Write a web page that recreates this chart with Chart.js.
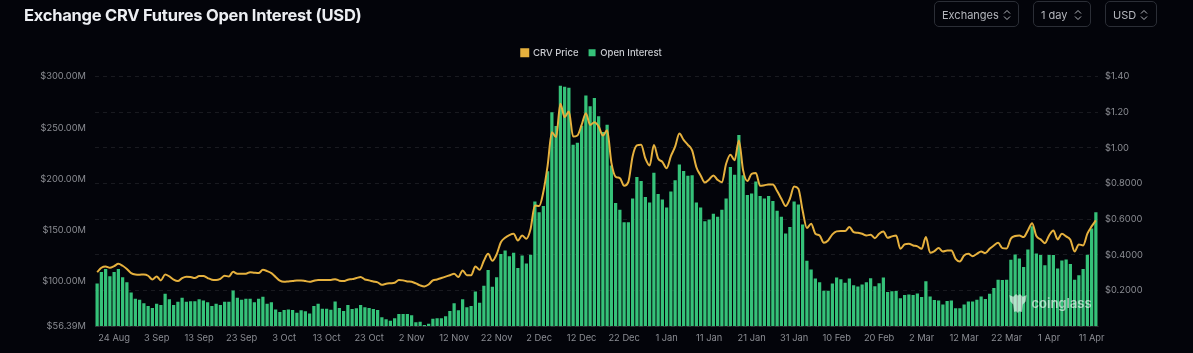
<!DOCTYPE html>
<html>
<head>
<meta charset="utf-8">
<script src="https://cdn.jsdelivr.net/npm/chart.js@4"></script>
<style>
html,body{margin:0;padding:0;background:#03040a;width:1193px;height:353px;overflow:hidden;font-family:Inter,sans-serif}
#wrap{position:relative;width:1193px;height:353px}
canvas{position:absolute;left:0;top:0}
#title{position:absolute;left:24px;top:3px;font-size:16.5px;font-weight:700;line-height:24px;color:#eceef2;letter-spacing:-0.25px;white-space:nowrap}
.sel{position:absolute;top:1px;height:24px;border:1px solid #2b2e36;border-radius:5px;color:#b4b6bc;font-size:11px;line-height:26px;padding-left:7px;white-space:nowrap}
.sel svg{position:absolute;top:7px;width:8px;height:12px}
#mark{position:absolute;left:1031.5px;top:294px;font-size:13px;font-weight:600;line-height:18px;color:rgba(255,255,255,.6)}
#logo{position:absolute;left:1008px;top:293px;width:20px;height:21px}
</style>
</head>
<body>
<div id="wrap">
<canvas id="c" width="1193" height="353"></canvas>
<div id="title">Exchange CRV Futures Open Interest (USD)</div>
<div class="sel" style="left:934px;width:76px">Exchanges<svg style="left:68px" viewBox="0 0 8 12"><path d="M1 4.5 4 1.5 7 4.5M1 7.5 4 10.5 7 7.5" fill="none" stroke="#b4b6bc" stroke-width="1"/></svg></div>
<div class="sel" style="left:1033px;width:49px">1 day<svg style="left:40px" viewBox="0 0 8 12"><path d="M1 4.5 4 1.5 7 4.5M1 7.5 4 10.5 7 7.5" fill="none" stroke="#b4b6bc" stroke-width="1"/></svg></div>
<div class="sel" style="left:1105px;width:43px">USD<svg style="left:34px" viewBox="0 0 8 12"><path d="M1 4.5 4 1.5 7 4.5M1 7.5 4 10.5 7 7.5" fill="none" stroke="#b4b6bc" stroke-width="1"/></svg></div>
<svg id="logo" viewBox="0 0 20 22"><path d="M1 2 5 4 8 1 10 3 12 1 15 4 19 2 18 9 15 12 14 20 11 19 10 21 8 19 6 20 5 12 2 9Z" fill="rgba(255,255,255,.6)"/></svg>
<div id="mark">coinglass</div>
</div>
<script>
const startDate = [2022, 7, 20];
const dayCount = 236;
const tickLabels = ["24 Aug","3 Sep","13 Sep","23 Sep","3 Oct","13 Oct","23 Oct","2 Nov","12 Nov","22 Nov","2 Dec","12 Dec","22 Dec","1 Jan","11 Jan","21 Jan","31 Jan","10 Feb","20 Feb","2 Mar","12 Mar","22 Mar","1 Apr","11 Apr"];
const leftTicks = [56.39,100,150,200,250,300];
const leftTickLabels = ["$56.39M","$100.00M","$150.00M","$200.00M","$250.00M","$300.00M"];
const rightTickLabels = {"1.4":"$1.40","1.2":"$1.20","1":"$1.00","0.8":"$0.8000","0.6":"$0.6000","0.4":"$0.4000","0.2":"$0.2000"};
const openInterest = [98,109,112,105,109,112,104,99,89,83,82,78.5,76,74,78,77,88,82.4,77,80,84,80,80.5,80.5,82.4,81.4,79.5,76,78,77,80,80,91,84,82,83,83,79.5,83,85,78,79.5,
72.6,70,72,72.6,72,69.4,71.7,70.7,68.7,76,78,73.3,73.3,72.3,80.4,74,71,77,73,73.6,77,74.6,74,73,72,65,63,61.6,64,68,68,68,67,60,60.6,57.4,58.6,63.5,63.9,64,66,71,78.5,71.7,82.4,74.6,76,90,79,95.7,111,94.7,104,126.6,130,124.6,128,113,125.3,117.5,125.9,
178,167.5,173.6,207.4,265,251.6,291,290,289,233.4,235.4,252,281.5,271,278.9,261.3,245.7,253,213,176.5,170,157.7,157.7,180.8,201.9,198,182.4,177,206,185.3,179.8,172,187.6,198.7,214,207.7,203,203.5,177,172,158.7,160.4,166,163,170,181,211.6,204,242.8,203.5,184.4,185.7,197.4,183.4,181,183.4,178.5,169,163,146.7,153,177.9,175,155.5,
120,111.6,102.8,99,90.8,90.8,98,103.8,102,98.6,102.8,96.3,95,97,99.2,103,95.3,98.2,103.8,89.5,90.2,90.5,83.4,86.6,87.2,86.6,88.2,84.6,100,85.3,81.7,81.4,77.5,80.7,81.4,73.6,73.6,77.5,80.4,80.4,82,85.3,82.7,87.8,93.4,101.5,101.2,101.5,121,126.2,122.3,114,131,153.8,127.2,125.6,115.8,125.6,125.6,112.6,120.4,121.4,117,101.5,106,112,125.9,151.6,167.5];
const crvPrice = [.302,.327,.334,.327,.336,.349,.338,.32,.297,.289,.288,.289,.282,.261,.278,.256,.289,.278,.26,.252,.269,.277,.275,.269,.28,.28,.269,.26,.258,.265,.282,.278,.304,.293,.293,.293,.302,.299,.297,.315,.308,.297,.275,.254,.248,.25,.252,.256,
.256,.252,.248,.254,.258,.258,.258,.258,.263,.254,.252,.26,.263,.269,.275,.261,.256,.25,.245,.231,.237,.24,.243,.258,.256,.25,.248,.239,.228,.222,.233,.256,.261,.269,.277,.285,.293,.275,.312,.285,.285,.334,.315,.366,.405,.366,.402,.47,.495,.51,.517,.48,.508,.49,.546,
.676,.673,.753,.9,1.087,1.06,1.247,1.172,1.204,1.063,1.069,1.128,1.194,1.128,1.143,1.12,1.069,1.098,.917,.838,.83,.787,.809,.953,1.013,1.017,.94,.9,1.015,.94,.921,.885,.953,1.006,1.08,1.044,1.017,.985,.891,.845,.805,.822,.845,.82,.807,.91,.961,.93,1.041,.873,.813,.854,.858,.787,.79,.794,.794,.757,.714,.673,.714,.783,.77,.648,
.55,.574,.518,.508,.467,.48,.514,.531,.533,.533,.555,.527,.523,
.518,.508,.512,.493,.518,.53,.495,.503,.508,.433,.458,.462,.452,.447,.433,.499,.411,.42,.437,.418,.424,.424,.377,.362,.396,.405,.392,.405,.418,.409,.433,.452,.467,.437,.435,.49,.505,.508,.499,.536,.577,.505,.486,.465,.508,.536,.486,.518,.503,.484,.418,.458,.452,.518,.559,.593];

const monthNames = ["Jan","Feb","Mar","Apr","May","Jun","Jul","Aug","Sep","Oct","Nov","Dec"];
const categories = [];
for (let i = 0; i < dayCount; i++) {
  const d = new Date(Date.UTC(startDate[0], startDate[1], startDate[2] + i));
  categories.push(d.getUTCDate() + " " + monthNames[d.getUTCMonth()]);
}
const tickColor = "#8b8d93";
const tickFont = {family:"Inter", size:9.3};

const legendTweak = {
  id:"legendTweak",
  beforeLayout(chart){
    const lg = chart.legend;
    if (lg.__wrapped) return;
    lg.__wrapped = true;
    const fit = lg.fit;
    lg.fit = function(){ fit.call(this); this.height += 9; };
  },
  beforeDraw(chart){ const lg = chart.legend; if(!lg.__shifted){ lg.__shifted = true; lg.right -= 10; } }
};

new Chart(document.getElementById("c"), {
  plugins:[legendTweak],
  data: {
    labels: categories,
    datasets: [
      {type:"line", label:"CRV Price", data:crvPrice, yAxisID:"yR", borderColor:"#e6b13e", backgroundColor:"#e6b13e", borderWidth:2, pointRadius:0, tension:0.4, cubicInterpolationMode:"monotone", order:0},
      {type:"bar", label:"Open Interest", data:openInterest, yAxisID:"yL", backgroundColor:"#35c279", borderWidth:0, categoryPercentage:1, barPercentage:0.76, order:1}
    ]
  },
  options: {
    responsive:false, animation:false, maintainAspectRatio:false,
    layout:{padding:{top:38,left:0,right:0,bottom:0}},
    plugins:{
      tooltip:{enabled:false},
      legend:{position:"top", labels:{boxWidth:7, boxHeight:7, padding:10, color:"#c9cbd0", font:{family:"Inter", size:9.5, weight:"500"}}}
    },
    scales:{
      x:{
        grid:{display:false, drawTicks:false},
        border:{color:"rgba(255,255,255,.10)"},
        afterFit(s){ s.height = 27; },
        ticks:{autoSkip:false, maxRotation:0, minRotation:0, padding:7, color:tickColor, font:tickFont,
          callback(v){ const l = this.getLabelForValue(v); return tickLabels.includes(l) ? l : null; }}
      },
      yL:{
        position:"left", min:56.39, max:300,
        grid:{display:false, drawTicks:false}, border:{display:false},
        afterFit(s){ s.width = 95; },
        afterBuildTicks(s){ s.ticks = leftTicks.map(v => ({value:v})); },
        ticks:{padding:9, color:tickColor, font:tickFont, autoSkip:false,
          callback(v){ return leftTickLabels[leftTicks.indexOf(v)]; }}
      },
      yR:{
        position:"right", min:0, max:1.4,
        grid:{color:"rgba(255,255,255,.09)", drawTicks:false, lineWidth:1},
        border:{display:false, dash:[4,4]},
        afterFit(s){ s.width = 95; },
        ticks:{stepSize:.2, padding:7, color:tickColor, font:tickFont,
          callback(v){ return rightTickLabels[String(+v.toFixed(1))] || ""; }}
      }
    }
  }
});
</script>
</body>
</html>
